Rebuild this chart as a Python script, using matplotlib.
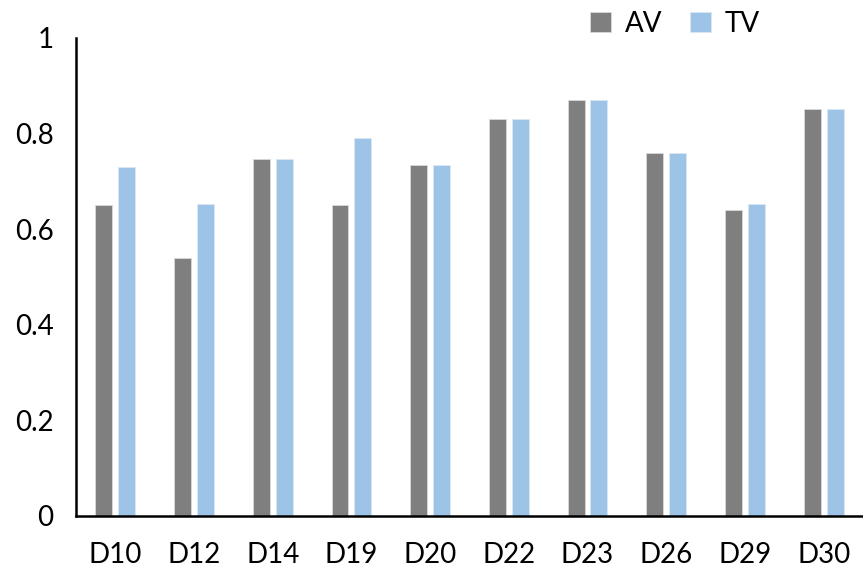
import matplotlib.pyplot as plt
import numpy as np

plt.rcParams['font.family'] = ['Lato', 'DejaVu Sans']

categories = ["D10", "D12", "D14", "D19", "D20", "D22", "D23", "D26", "D29", "D30"]
av_values = [0.65, 0.54, 0.747, 0.65, 0.734, 0.830, 0.869, 0.759, 0.640, 0.851]
tv_values = [0.73, 0.652, 0.747, 0.79, 0.734, 0.830, 0.869, 0.759, 0.652, 0.851]
y_ticks = [0, 0.2, 0.4, 0.6, 0.8, 1]
y_tick_labels = ["0", "0.2", "0.4", "0.6", "0.8", "1"]

av_color = "#7F7F7F"
tv_color = "#9DC3E6"

fig = plt.figure(figsize=(8.63, 5.72), dpi=100)
ax = fig.add_axes([0.088, 0.098, 0.912, 0.836])

x = np.arange(len(categories))
bar_width = 0.215
offset = 0.145

ax.bar(x - offset, av_values, width=bar_width, color=av_color,
	edgecolor="#d9d9d9", linewidth=0.6, label="AV")
ax.bar(x + offset, tv_values, width=bar_width, color=tv_color,
	edgecolor="#dbe8f5", linewidth=0.6, label="TV")

ax.set_xlim(-0.5, len(categories) - 0.5)
ax.set_ylim(0, 1)
ax.set_xticks(x)
ax.set_xticklabels(categories, fontsize=20)
ax.set_yticks(y_ticks)
ax.set_yticklabels(y_tick_labels, fontsize=20)
ax.tick_params(axis='both', length=0)
ax.tick_params(axis='x', pad=19)
ax.tick_params(axis='y', pad=16)

for side in ["top", "right"]:
	ax.spines[side].set_visible(False)
for side in ["left", "bottom"]:
	ax.spines[side].set_linewidth(1.8)
	ax.spines[side].set_color("black")

fig.legend(
	loc="upper left", bbox_to_anchor=(0.655, 1.025),
	ncol=2, frameon=False, fontsize=20,
	handlelength=0.75, handleheight=0.75, handletextpad=0.5,
	columnspacing=1.0,
)

plt.savefig("out.png", dpi=100)
plt.close()
